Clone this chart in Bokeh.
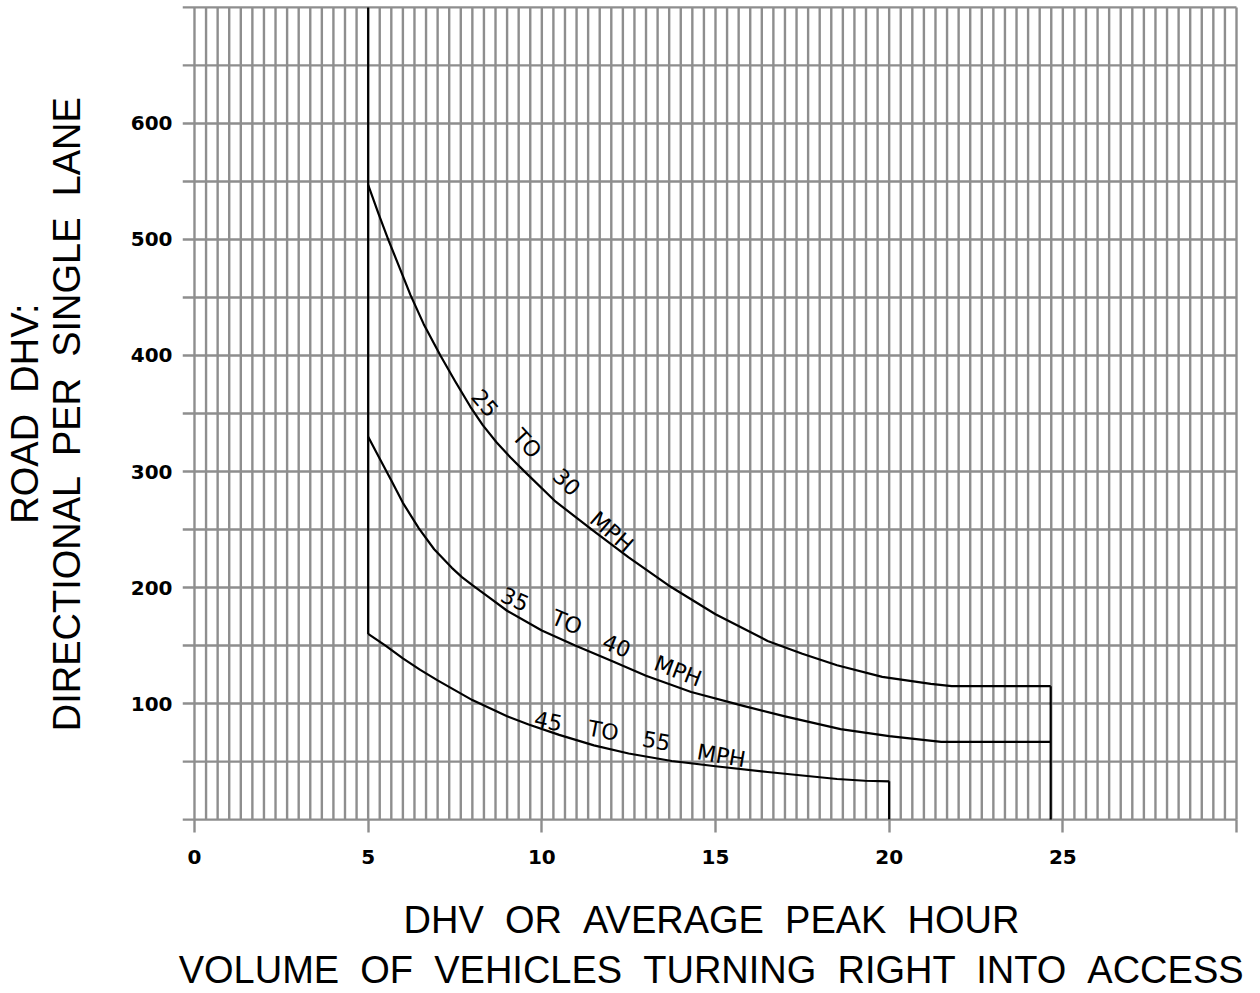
import numpy as np
from bokeh.plotting import figure
from bokeh.models import Range1d, FixedTicker, ColumnDataSource
from bokeh.core.properties import value
from bokeh.embed import file_html
from bokeh.resources import INLINE

# ---- data ----
x_ticks = [0, 5, 10, 15, 20, 25, 30]
y_ticks = [100, 200, 300, 400, 500, 600]

# 25 to 30 MPH
x_2530 = [5, 5.3, 5.59, 5.9, 6.22, 6.6, 7.08, 7.5, 7.94, 8.3, 8.7, 9.1, 9.47, 10.4, 11.44, 12.5, 13.64, 15, 16.5, 17.5, 18.5, 19.8, 21.2, 21.8, 24.65]
y_2530 = [547, 522, 499, 476, 452, 427, 400, 378, 356, 340, 325, 312, 301, 274, 250, 226, 202, 177, 154, 143, 133, 123, 117, 115, 115]
# 35 to 40 MPH
x_3540 = [5, 5.3, 5.69, 6.0, 6.46, 6.9, 7.41, 7.7, 8, 8.5, 9, 10, 10.96, 12, 13, 14.3, 15.8, 17, 18.6, 20, 21.5, 24.65]
y_3540 = [330, 313, 291, 273, 251, 233, 217, 209, 202, 191, 180, 163, 150, 137, 124, 110, 98, 89, 78, 72, 67, 67]
# 45 to 55 MPH
x_4555 = [5, 5.5, 6, 6.5, 7, 8, 9, 9.62, 10.5, 11.5, 12.5, 13.74, 15, 16.5, 17.5, 18.5, 19.3, 20]
y_4555 = [160, 150, 139, 129, 120, 103, 89, 82, 73, 64, 57, 50.5, 46, 41, 38, 35, 33.5, 33]

# boundary lines
left_bound_x = [5, 5]
left_bound_y = [700, 160]
right_bound_x = [24.65, 24.65]
right_bound_y = [115, 0]
end_4555_x = [20, 20]
end_4555_y = [33, 0]

# curve labels (word by word along the curves)
lbl_words = ["25", "TO", "30", "MPH", "35", "TO", "40", "MPH", "45", "TO", "55", "MPH"]
lbl_x = [8.37, 9.57, 10.72, 12.01, 9.23, 10.72, 12.16, 13.92, 10.19, 11.77, 13.3, 15.17]
lbl_y = [359, 324, 291, 248, 190, 170, 150, 128, 85, 76.5, 68, 55]
lbl_deg = [-50, -47, -44, -41, -24, -23, -22, -21, -12, -11, -11, -10]

SP = " \u00a0"  # wide word gap as in the drawing
x_title = SP.join(["DHV", "OR", "AVERAGE", "PEAK", "HOUR"]) + "\n" + \
    SP.join(["VOLUME", "OF", "VEHICLES", "TURNING", "RIGHT", "INTO", "ACCESS"])
y_title = SP.join(["ROAD", "DHV:"]) + "\n" + SP.join(["DIRECTIONAL", "PER", "SINGLE", "LANE"])

# grid extent
x_min, x_max = 0, 30
y_min, y_max = 0, 700

GRID = "#8e8e8e"

p = figure(width=1256, height=993,
           x_range=Range1d(-0.345, 30.115), y_range=Range1d(-2.5, 702.5),
           output_backend="svg", toolbar_location=None,
           min_border_left=180, min_border_right=16,
           min_border_top=4, min_border_bottom=171)
p.outline_line_color = None
p.xgrid.visible = False
p.ygrid.visible = False

# grid as segments (every 1/3 unit in x, every 50 in y)
vx = np.arange(0, 91) / 3.0
p.segment(x0=vx, y0=np.full(len(vx), y_min), x1=vx, y1=np.full(len(vx), y_max),
          line_color=GRID, line_width=2.4)
hy = np.arange(0, 701, 50)
p.segment(x0=np.full(len(hy), -0.345), y0=hy, x1=np.full(len(hy), x_max), y1=hy,
          line_color=GRID, line_width=2.4)

# curves
lw = 2.2
for xs, ys in [(x_2530, y_2530), (x_3540, y_3540), (x_4555, y_4555),
               (left_bound_x, left_bound_y), (right_bound_x, right_bound_y),
               (end_4555_x, end_4555_y)]:
    p.line(xs, ys, line_color="black", line_width=lw, line_join="round")

src = ColumnDataSource(dict(x=lbl_x, y=lbl_y, text=lbl_words,
                            angle=[np.deg2rad(a) for a in lbl_deg]))
p.text(x="x", y="y", text="text", angle="angle", source=src,
       text_font=value("DejaVu Sans"), text_font_size=value("22px"),
       text_align="center", text_baseline="middle", text_color="black")

# axes
xa = p.xaxis[0]
xa.ticker = FixedTicker(ticks=x_ticks)
xa.major_label_overrides = {30: ""}
xa.axis_line_color = None
xa.major_tick_line_color = GRID
xa.major_tick_line_width = 2.4
xa.major_tick_in = 3
xa.major_tick_out = 10
xa.minor_tick_line_color = None
xa.major_label_standoff = 17
xa.major_label_text_font = "DejaVu Sans"
xa.major_label_text_font_style = "bold"
xa.major_label_text_font_size = "20px"
xa.major_label_text_color = "black"
xa.axis_label = x_title
xa.axis_label_text_font = "Liberation Sans"
xa.axis_label_text_font_style = "normal"
xa.axis_label_text_font_size = "38px"
xa.axis_label_text_color = "black"
xa.axis_label_text_align = "center"
xa.axis_label_text_line_height = 1.2
xa.axis_label_standoff = 32

ya = p.yaxis[0]
ya.ticker = FixedTicker(ticks=y_ticks)
ya.axis_line_color = None
ya.major_tick_line_color = None
ya.major_tick_in = 0
ya.major_tick_out = 0
ya.minor_tick_line_color = None
ya.major_label_standoff = 10
ya.major_label_text_font = "DejaVu Sans"
ya.major_label_text_font_style = "bold"
ya.major_label_text_font_size = "20px"
ya.major_label_text_color = "black"
ya.axis_label = y_title
ya.axis_label_text_font = "Liberation Sans"
ya.axis_label_text_font_style = "normal"
ya.axis_label_text_font_size = "38px"
ya.axis_label_text_color = "black"
ya.axis_label_text_align = "center"
ya.axis_label_text_line_height = 1.0
ya.axis_label_standoff = 40

open("out.html", "w").write(file_html(p, INLINE))
